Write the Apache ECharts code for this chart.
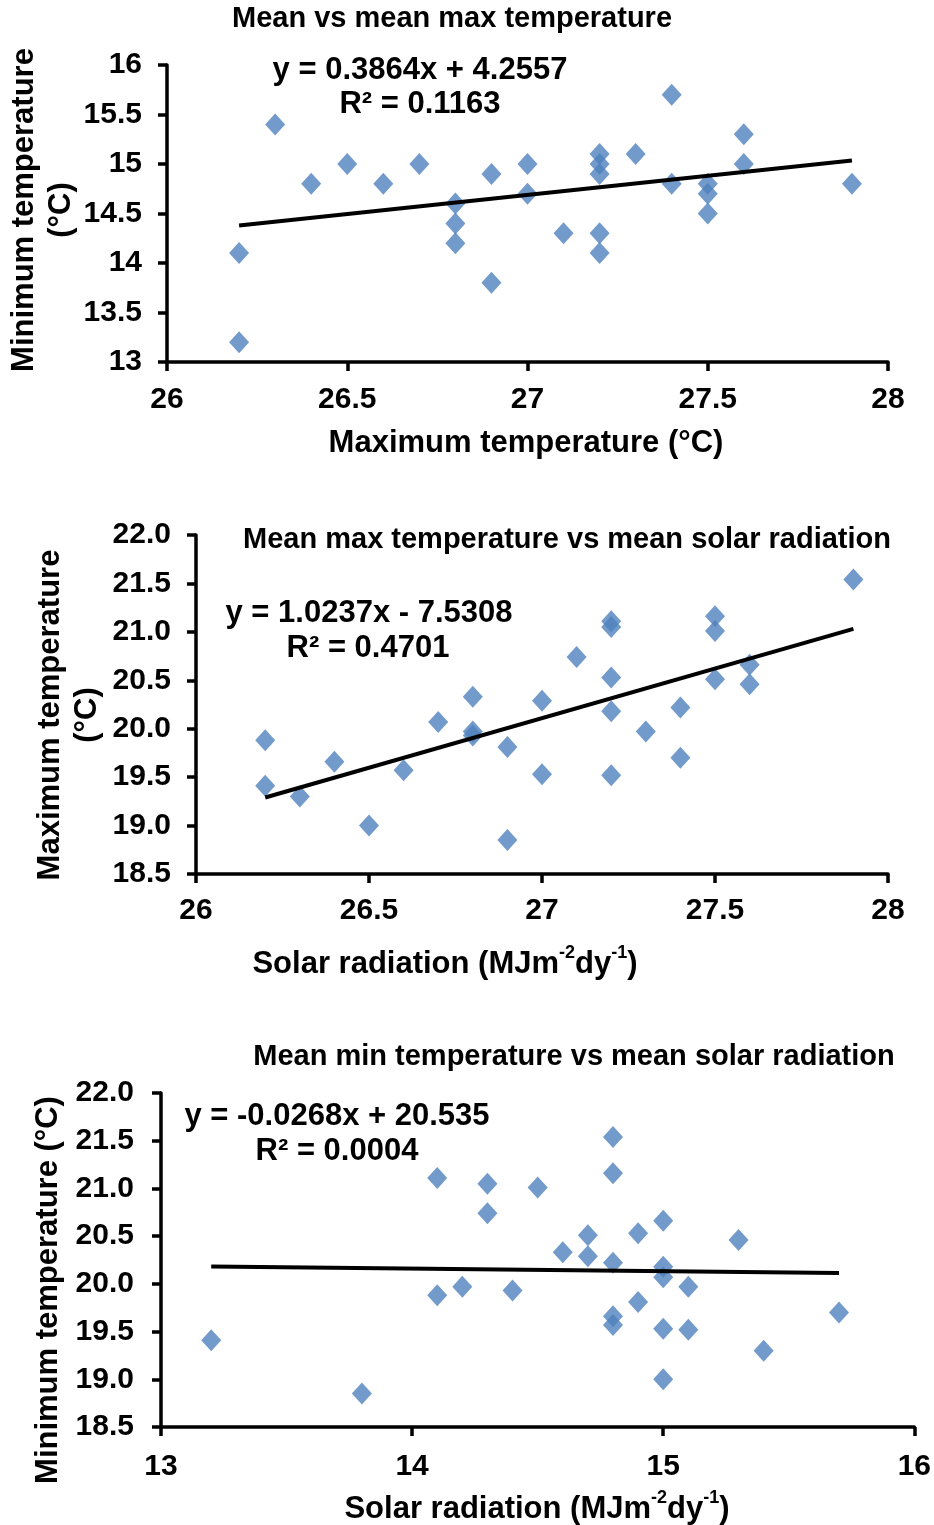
<!DOCTYPE html>
<html>
<head>
<meta charset="utf-8">
<script src="https://cdn.jsdelivr.net/npm/echarts@6/dist/echarts.min.js"></script>
<style>
  html, body { margin: 0; padding: 0; background: #fff; }
  #chart { width: 934px; height: 1525px; }
</style>
</head>
<body>
<div id="chart"></div>
<script>
// one entry per observation, same index in every array
// maximum temperature (x of chart 1 and chart 2)
var maxTemp = [26.2, 26.2, 26.3, 26.4, 26.5, 26.6, 26.7, 26.8, 26.8, 26.8,
               26.9, 26.9, 27.0, 27.0, 27.1, 27.2, 27.2, 27.2, 27.2, 27.2,
               27.3, 27.4, 27.4, 27.5, 27.5, 27.5, 27.6, 27.6, 27.9];
// minimum temperature (y of chart 1, x of chart 3)
var minTemp = [13.2, 14.1, 15.4, 14.8, 15.0, 14.8, 15.0, 14.6, 14.4, 14.2,
               14.9, 13.8, 15.0, 14.7, 14.3, 15.1, 15.0, 14.9, 14.3, 14.1,
               15.1, 15.7, 14.8, 14.8, 14.7, 14.5, 15.3, 15.0, 14.8];
// y of chart 2 and chart 3
var otherVar = [19.41, 19.88, 19.30, 19.66, 19.00, 19.57, 20.07, 20.33, 19.93, 19.97,
                19.81, 18.85, 19.53, 20.29, 20.74, 19.52, 20.18, 20.53, 21.05, 21.11,
                19.97, 19.70, 20.22, 21.16, 20.51, 21.01, 20.46, 20.66, 21.54];

// trendline [slope, intercept] as printed on each chart
var trend1 = [0.3864, 4.2557];
var trend2 = [1.0237, -7.5308];
var trend3 = [-0.0268, 20.535];

var titles = ['Mean vs mean max temperature',
              'Mean max temperature vs mean solar radiation',
              'Mean min temperature vs mean solar radiation'];
var equations = [['y = 0.3864x + 4.2557', 'R² = 0.1163'],
                 ['y = 1.0237x - 7.5308', 'R² = 0.4701'],
                 ['y = -0.0268x + 20.535', 'R² = 0.0004']];

var FONT = '"Liberation Sans", Arial, sans-serif';
var BLUE = '#4F81BD';

function pairs(xs, ys) {
    return xs.map(function (x, i) { return [x, ys[i]]; });
}
function trendData(xs, t) {
    var lo = Math.min.apply(null, xs), hi = Math.max.apply(null, xs);
    return [[lo, t[0] * lo + t[1]], [hi, t[0] * hi + t[1]]];
}

function axis(gi, min, max, interval, margin, fmt) {
    return {
        type: 'value', gridIndex: gi, min: min, max: max, interval: interval,
        axisLine: { show: true, onZero: false, lineStyle: { color: '#000', width: 3.5 } },
        axisTick: { show: true, length: 9, lineStyle: { color: '#000', width: 3.5 } },
        splitLine: { show: false },
        axisLabel: {
            color: '#000', fontSize: 30, fontWeight: 'bold', fontFamily: FONT,
            margin: margin, showMinLabel: true, showMaxLabel: true,
            formatter: fmt
        }
    };
}
var oneDec = function (v) { return v.toFixed(1); };

function txt(str, x, y, rot, size, extra) {
    var style = {
        text: str, x: 0, y: 0, fill: '#000',
        font: 'bold ' + (size || 29) + 'px ' + FONT, align: 'center', verticalAlign: 'middle'
    };
    for (var k in extra) style[k] = extra[k];
    return { type: 'text', x: x, y: y, rotation: rot || 0, style: style, z: 10 };
}
var supRich = {
    m: { fontSize: 31, fontWeight: 'bold', fontFamily: FONT, lineHeight: 36, verticalAlign: 'bottom' },
    s: { fontSize: 18, fontWeight: 'bold', fontFamily: FONT, lineHeight: 36, verticalAlign: 'top', padding: [0, 0, 0, 0] }
};

var myChart = echarts.init(document.getElementById('chart'));

var option = {
    backgroundColor: '#fff',
    animation: false,
    grid: [
        { left: 167, top: 65, width: 721, height: 297 },
        { left: 196, top: 535, width: 692, height: 339 },
        { left: 161, top: 1093, width: 754, height: 334 }
    ],
    xAxis: [
        axis(0, 26, 28, 0.5, 23),
        axis(1, 26, 28, 0.5, 22),
        axis(2, 13, 16, 1, 25)
    ],
    yAxis: [
        axis(0, 13, 16, 0.5, 25),
        axis(1, 18.5, 22, 0.5, 25, oneDec),
        axis(2, 18.5, 22, 0.5, 27, oneDec)
    ],
    series: [
        { type: 'scatter', xAxisIndex: 0, yAxisIndex: 0, symbol: 'diamond', symbolSize: [20, 22],
          itemStyle: { color: BLUE }, data: pairs(maxTemp, minTemp) },
        { type: 'scatter', xAxisIndex: 1, yAxisIndex: 1, symbol: 'diamond', symbolSize: [20, 22],
          itemStyle: { color: BLUE }, data: pairs(maxTemp, otherVar) },
        { type: 'scatter', xAxisIndex: 2, yAxisIndex: 2, symbol: 'diamond', symbolSize: [20, 22],
          itemStyle: { color: BLUE }, data: pairs(minTemp, otherVar) },
        { type: 'line', xAxisIndex: 0, yAxisIndex: 0, symbol: 'none', z: 5,
          lineStyle: { color: '#000', width: 4 }, data: trendData(maxTemp, trend1) },
        { type: 'line', xAxisIndex: 1, yAxisIndex: 1, symbol: 'none', z: 5,
          lineStyle: { color: '#000', width: 4 }, data: trendData(maxTemp, trend2) },
        { type: 'line', xAxisIndex: 2, yAxisIndex: 2, symbol: 'none', z: 5,
          lineStyle: { color: '#000', width: 4 }, data: trendData(minTemp, trend3) }
    ],
    graphic: [
        // chart 1
        txt(titles[0], 452, 19, 0, 29),
        txt(equations[0][0], 420, 70, 0, 31),
        txt(equations[0][1], 420, 104, 0, 31),
        txt('Minimum temperature\n(°C)', 43, 210, Math.PI / 2, 31, { lineHeight: 37 }),
        txt('Maximum temperature (°C)', 526, 443, 0, 31),
        // chart 2
        txt(titles[1], 567, 540, 0, 29),
        txt(equations[1][0], 369, 613, 0, 31),
        txt(equations[1][1], 368, 648, 0, 31),
        txt('Maximum temperature\n(°C)', 69, 715, Math.PI / 2, 31, { lineHeight: 37 }),
        txt('{m|Solar radiation (MJm}{s|-2}{m|dy}{s|-1}{m|)}', 445, 962, 0, 31, { rich: supRich }),
        // chart 3
        txt(titles[2], 574, 1057, 0, 29),
        txt(equations[2][0], 337, 1116, 0, 31),
        txt(equations[2][1], 337, 1151, 0, 31),
        txt('Minimum temperature (°C)', 48, 1290, Math.PI / 2, 31),
        txt('{m|Solar radiation (MJm}{s|-2}{m|dy}{s|-1}{m|)}', 537, 1507, 0, 31, { rich: supRich })
    ]
};

myChart.setOption(option);
window.addEventListener('resize', function () { myChart.resize(); });
</script>
</body>
</html>
